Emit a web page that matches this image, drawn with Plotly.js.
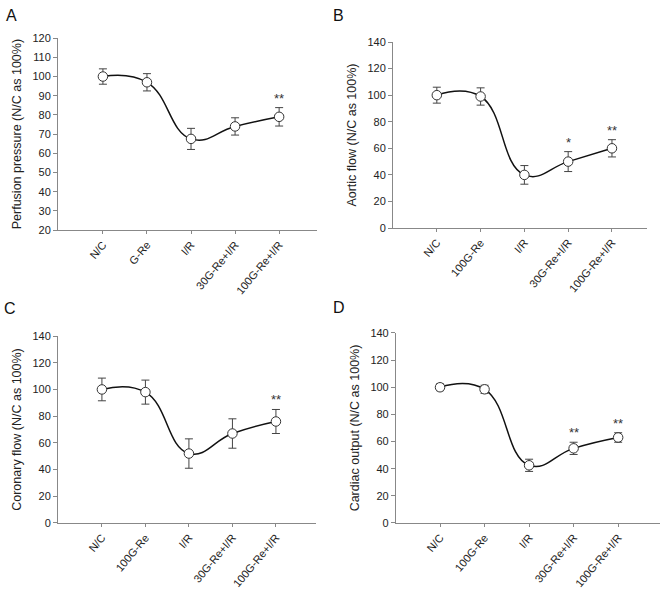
<!DOCTYPE html>
<html>
<head>
<meta charset="utf-8">
<script src="https://cdn.plot.ly/plotly-3.0.1.min.js"></script>
<style>
  html, body { margin: 0; padding: 0; background: #fff; }
  #grafica { width: 661px; height: 596px; }
</style>
</head>
<body>
<div id="grafica"></div>
<script>
const gruposA = ['N/C', 'G-Re', 'I/R', '30G-Re+I/R', '100G-Re+I/R'];
const gruposBCD = ['N/C', '100G-Re', 'I/R', '30G-Re+I/R', '100G-Re+I/R'];

const perfusion = [100, 97, 67.5, 74, 79];
const perfusionErr = [4, 4.5, 5.5, 4.5, 4.8];
const perfusionSig = ['', '', '', '', '**'];

const aortico = [100, 99, 40, 50, 60];
const aorticoErr = [6, 6.5, 7, 7.5, 6.5];
const aorticoSig = ['', '', '', '*', '**'];

const coronario = [100, 98, 52, 67, 76];
const coronarioErr = [8.5, 9, 11, 11, 9];
const coronarioSig = ['', '', '', '', '**'];

const gasto = [100, 98.5, 42.5, 55, 63];
const gastoErr = [2.5, 3, 4.5, 4.5, 3.5];
const gastoSig = ['', '', '', '**', '**'];

const paneles = [
  { letra: 'A', grupos: gruposA, y: perfusion, err: perfusionErr, sig: perfusionSig,
    titulo: 'Perfusion pressure (N/C as 100%)', yRango: [20, 120], dtick: 10,
    xDom: [0.0877, 0.4796], yDom: [0.614, 0.936], xRango: [-1.02, 4.86],
    letraPos: [11, 15] },
  { letra: 'B', grupos: gruposBCD, y: aortico, err: aorticoErr, sig: aorticoSig,
    titulo: 'Aortic flow (N/C as 100%)', yRango: [0, 140], dtick: 20,
    xDom: [0.5946, 0.9788], yDom: [0.6174, 0.9295], xRango: [-1.0, 4.8],
    letraPos: [338, 15] },
  { letra: 'C', grupos: gruposBCD, y: coronario, err: coronarioErr, sig: coronarioSig,
    titulo: 'Coronary flow (N/C as 100%)', yRango: [0, 140], dtick: 20,
    xDom: [0.0877, 0.478], yDom: [0.1225, 0.4362], xRango: [-1.01, 4.92],
    letraPos: [10, 308] },
  { letra: 'D', grupos: gruposBCD, y: gasto, err: gastoErr, sig: gastoSig,
    titulo: 'Cardiac output (N/C as 100%)', yRango: [0, 140], dtick: 20,
    xDom: [0.599, 0.9985], yDom: [0.1225, 0.4413], xRango: [-0.99, 4.94],
    letraPos: [339, 307] }
];

const trazas = [];
const anotaciones = [];
const layout = {
  width: 661,
  height: 596,
  margin: { l: 0, r: 0, t: 0, b: 0 },
  paper_bgcolor: '#fff',
  plot_bgcolor: 'rgba(0,0,0,0)',
  showlegend: false,
  font: { family: 'Liberation Sans, Arial, sans-serif', color: '#222', size: 11 }
};

paneles.forEach((p, i) => {
  const n = i === 0 ? '' : String(i + 1);
  trazas.push({
    x: p.grupos,
    y: p.y,
    xaxis: 'x' + n,
    yaxis: 'y' + n,
    type: 'scatter',
    mode: 'lines+markers',
    line: { shape: 'spline', smoothing: 1.3, color: '#111', width: 1.5 },
    marker: { symbol: 'circle', size: 9.5, color: '#fff', line: { color: '#333', width: 1 } },
    error_y: { type: 'data', array: p.err, visible: true, color: '#444', thickness: 1, width: 4 },
    cliponaxis: false
  });

  layout['xaxis' + n] = {
    type: 'category',
    domain: p.xDom,
    range: p.xRango,
    anchor: 'y' + n,
    showline: true,
    linecolor: '#888',
    linewidth: 1,
    ticks: 'outside',
    ticklen: 3,
    tickcolor: '#888',
    tickangle: -50,
    showgrid: false,
    zeroline: false,
    tickfont: { size: 11, color: '#222' }
  };

  layout['yaxis' + n] = {
    domain: p.yDom,
    range: p.yRango,
    dtick: p.dtick,
    anchor: 'x' + n,
    showline: true,
    linecolor: '#888',
    linewidth: 1,
    ticks: 'outside',
    ticklen: 4,
    tickcolor: '#888',
    showgrid: false,
    zeroline: false,
    tickfont: { size: 11, color: '#222' },
    title: { text: p.titulo, font: { size: 12.5, color: '#222' }, standoff: 8 }
  };

  p.sig.forEach((s, j) => {
    if (!s) return;
    anotaciones.push({
      xref: 'x' + n, yref: 'y' + n,
      x: p.grupos[j], y: p.y[j] + p.err[j],
      text: s, showarrow: false, yanchor: 'bottom', yshift: 0,
      font: { size: 13, color: '#333' }
    });
  });

  anotaciones.push({
    xref: 'paper', yref: 'paper',
    x: p.letraPos[0] / 661, y: 1 - p.letraPos[1] / 596,
    text: p.letra, showarrow: false, xanchor: 'center', yanchor: 'middle',
    font: { size: 16, color: '#111' }
  });
});

layout.annotations = anotaciones;

Plotly.newPlot('grafica', trazas, layout, { displayModeBar: false, staticPlot: true });
</script>
</body>
</html>
